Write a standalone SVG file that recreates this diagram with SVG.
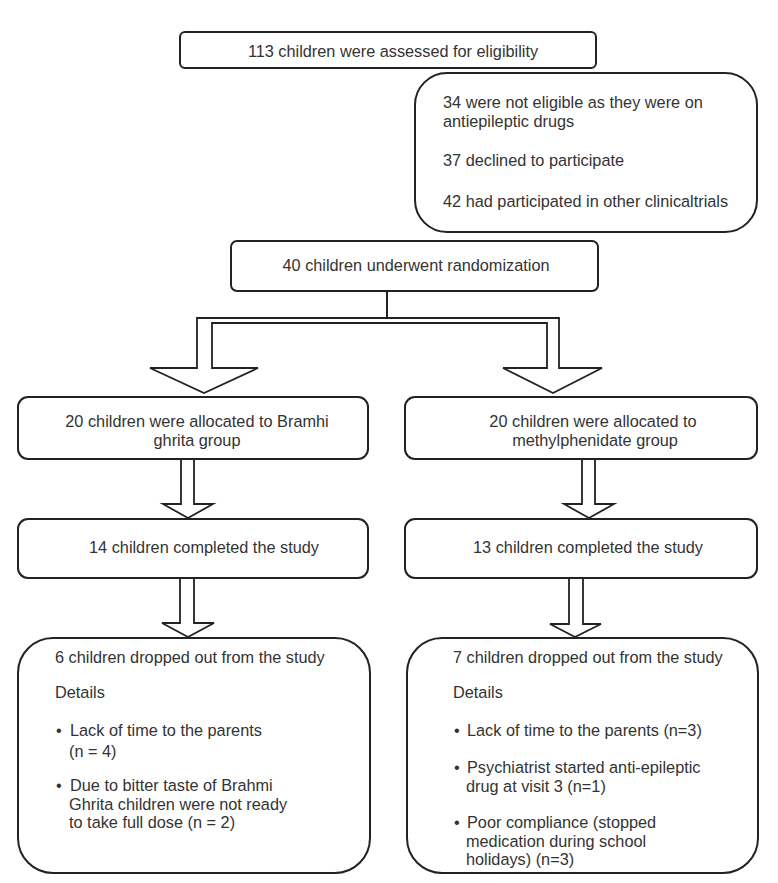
<svg xmlns="http://www.w3.org/2000/svg" width="778" height="883" viewBox="0 0 778 883">
<style>
.box{fill:#fff;stroke:#222;stroke-width:2}
.arr{fill:#fff;stroke:#222;stroke-width:1.8;stroke-linejoin:miter}
.ln{fill:none;stroke:#222;stroke-width:2}
text{font-family:"Liberation Sans",Arial,sans-serif;font-size:16.3px;fill:#333}
.c{text-anchor:middle}
</style>
<rect width="778" height="883" fill="#fff"/>
<g id="connectors">
<line class="ln" x1="387" y1="291" x2="387" y2="318"/>
<path class="arr" d="M150,368 L197,368 L197,318 L559,318 L559,368 L602,368 L553,393 L503,368 L547,368 L547,323 L212,323 L212,368 L258,368 L204,393 Z"/>
<path class="arr" d="M181,459 L181,504 L163,504 L188,518 L213,504 L194,504 L194,459"/>
<path class="arr" d="M582,459 L582,504 L564,504 L589,518 L614,504 L595,504 L595,459"/>
<path class="arr" d="M180,578 L180,623 L162,623 L188,637 L214,623 L194,623 L194,578"/>
<path class="arr" d="M569,578 L569,624 L550,624 L575,637 L601,624 L583,624 L583,578"/>
</g>
<g id="assessed">
<rect class="box" x="180" y="32" width="416" height="36" rx="5"/>
<text class="c" x="393" y="57">113 children were assessed for eligibility</text>
</g>
<g id="excluded">
<rect class="box" x="415" y="73" width="342" height="159" rx="32"/>
<text x="443" y="108">34 were not eligible as they were on</text>
<text x="443" y="127">antiepileptic drugs</text>
<text x="443" y="166">37 declined to participate</text>
<text x="443" y="207">42 had participated in other clinicaltrials</text>
</g>
<g id="randomized">
<rect class="box" x="231" y="241" width="367" height="50" rx="6"/>
<text class="c" x="416" y="271">40 children underwent randomization</text>
</g>
<g id="alloc-brahmi">
<rect class="box" x="18" y="397" width="350" height="62" rx="10"/>
<text class="c" x="197" y="427">20 children were allocated to Bramhi</text>
<text class="c" x="197" y="446">ghrita group</text>
</g>
<g id="alloc-methyl">
<rect class="box" x="405" y="397" width="352" height="62" rx="10"/>
<text class="c" x="593" y="427">20 children were allocated to</text>
<text class="c" x="595" y="446">methylphenidate group</text>
</g>
<g id="completed-brahmi">
<rect class="box" x="18" y="519" width="350" height="59" rx="10"/>
<text class="c" x="204" y="553">14 children completed the study</text>
</g>
<g id="completed-methyl">
<rect class="box" x="405" y="519" width="352" height="59" rx="10"/>
<text class="c" x="588" y="553">13 children completed the study</text>
</g>
<g id="dropout-brahmi">
<rect class="box" x="18" y="638" width="352" height="235" rx="35"/>
<text x="55" y="663">6 children dropped out from the study</text>
<text x="55" y="698">Details</text>
<text x="56" y="736">•</text>
<text x="70" y="736">Lack of time to the parents</text>
<text x="69" y="757">(n = 4)</text>
<text x="56" y="791">•</text>
<text x="70" y="791">Due to bitter taste of Brahmi</text>
<text x="69" y="810">Ghrita children were not ready</text>
<text x="69" y="828">to take full dose (n = 2)</text>
</g>
<g id="dropout-methyl">
<rect class="box" x="407" y="638" width="351" height="235" rx="35"/>
<text x="453" y="663">7 children dropped out from the study</text>
<text x="453" y="698">Details</text>
<text x="454" y="736">•</text>
<text x="467" y="736">Lack of time to the parents (n=3)</text>
<text x="454" y="773">•</text>
<text x="467" y="773">Psychiatrist started anti-epileptic</text>
<text x="466" y="792">drug at visit 3 (n=1)</text>
<text x="454" y="828">•</text>
<text x="467" y="828">Poor compliance (stopped</text>
<text x="466" y="847">medication during school</text>
<text x="466" y="865">holidays) (n=3)</text>
</g>
</svg>
